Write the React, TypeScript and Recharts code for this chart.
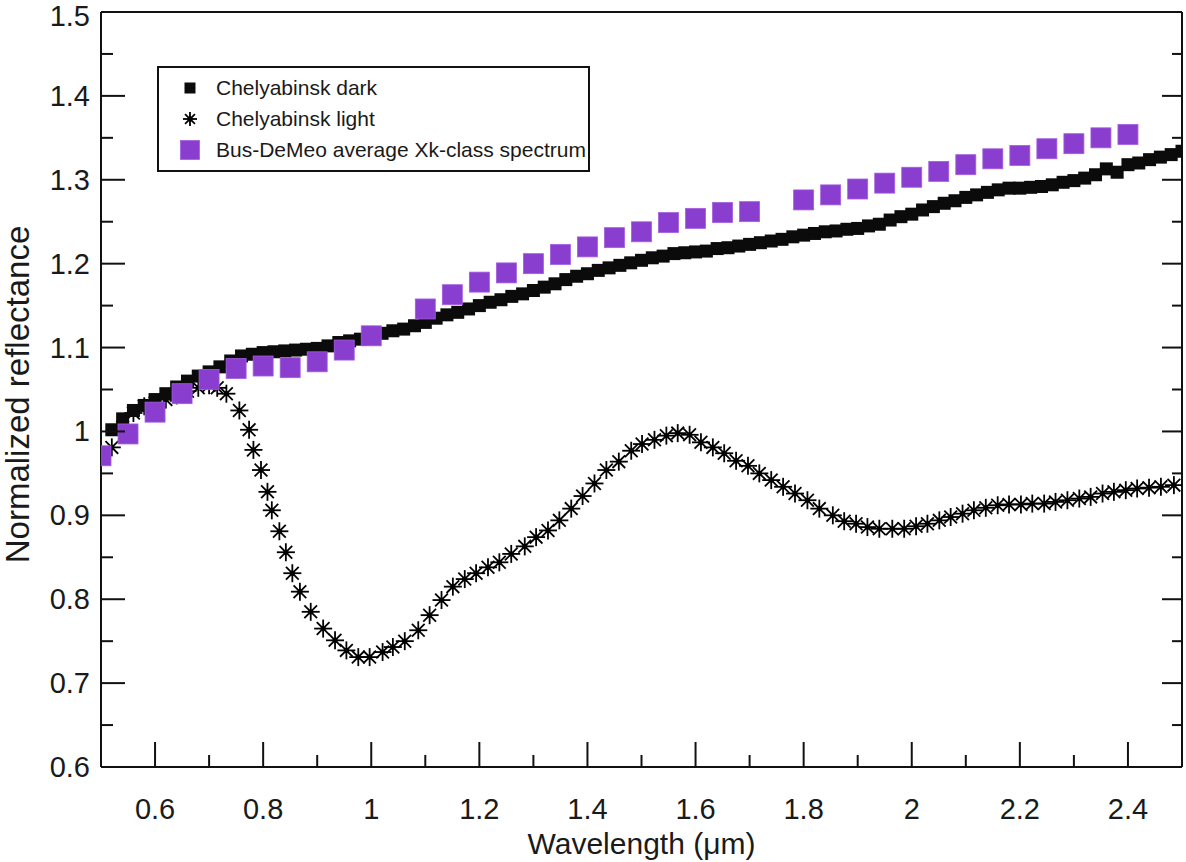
import { Label, Legend, Scatter, ScatterChart, XAxis, YAxis } from "recharts";

const FONT = '"Liberation Sans", Arial, Helvetica, sans-serif';

// Chelyabinsk dark (black squares)
const darkWavelength = [
  0.52, 0.54, 0.56, 0.58, 0.6, 0.62, 0.64, 0.66, 0.68, 0.7, 0.72, 0.74, 0.76, 0.78, 0.8, 0.82, 0.84, 0.86, 0.88, 0.9,
  0.92, 0.94, 0.96, 0.98, 1.0, 1.02, 1.04, 1.06, 1.08, 1.1, 1.12, 1.14, 1.16, 1.18, 1.2, 1.22, 1.24, 1.26, 1.28, 1.3,
  1.32, 1.34, 1.36, 1.38, 1.4, 1.42, 1.44, 1.46, 1.48, 1.5, 1.52, 1.54, 1.56, 1.58, 1.6, 1.62, 1.64, 1.66, 1.68, 1.7,
  1.72, 1.74, 1.76, 1.78, 1.8, 1.82, 1.84, 1.86, 1.88, 1.9, 1.92, 1.94, 1.96, 1.98, 2.0, 2.02, 2.04, 2.06, 2.08, 2.1,
  2.12, 2.14, 2.16, 2.18, 2.2, 2.22, 2.24, 2.26, 2.28, 2.3, 2.32, 2.34, 2.36, 2.38, 2.4, 2.42, 2.44, 2.46, 2.48, 2.5,
];
const darkReflectance = [
  1.002, 1.015, 1.025, 1.031, 1.038, 1.045, 1.053, 1.06, 1.066, 1.071, 1.077, 1.084, 1.09, 1.092, 1.094, 1.095, 1.096, 1.097, 1.098, 1.099,
  1.102, 1.106, 1.108, 1.11, 1.114, 1.117, 1.12, 1.122, 1.126, 1.13, 1.135, 1.139, 1.142, 1.146, 1.15, 1.154, 1.157, 1.161, 1.164, 1.168,
  1.172, 1.176, 1.181, 1.185, 1.188, 1.192, 1.195, 1.198, 1.201, 1.204, 1.207, 1.209, 1.212, 1.213, 1.214, 1.215, 1.218, 1.219, 1.221, 1.223,
  1.225, 1.227, 1.229, 1.232, 1.234, 1.236, 1.238, 1.239, 1.241, 1.242, 1.245, 1.247, 1.252, 1.256, 1.259, 1.264, 1.268, 1.272, 1.275, 1.279,
  1.282, 1.285, 1.288, 1.29, 1.29, 1.291, 1.292, 1.294, 1.297, 1.299, 1.302, 1.306, 1.313, 1.309, 1.318, 1.32, 1.324, 1.327, 1.33, 1.334,
];

// Chelyabinsk light (asterisks)
const lightWavelength = [
  0.52, 0.54, 0.56, 0.58, 0.6, 0.62, 0.64, 0.66, 0.68, 0.7, 0.715, 0.732, 0.756, 0.774, 0.782, 0.796, 0.808, 0.816, 0.83, 0.842,
  0.854, 0.868, 0.888, 0.911, 0.933, 0.954, 0.976, 0.997, 1.021, 1.04, 1.062, 1.087, 1.108, 1.13, 1.151, 1.173, 1.194, 1.216, 1.237, 1.259,
  1.284, 1.305, 1.327, 1.348, 1.37, 1.391, 1.413, 1.435, 1.458, 1.481, 1.501, 1.524, 1.546, 1.567, 1.589, 1.61, 1.632, 1.653, 1.675, 1.697,
  1.718, 1.74, 1.762, 1.784, 1.807, 1.829, 1.854, 1.875, 1.897, 1.918, 1.94, 1.964, 1.986, 2.008, 2.029, 2.051, 2.072, 2.094, 2.115, 2.137,
  2.159, 2.18, 2.202, 2.223, 2.245, 2.266, 2.288, 2.31, 2.331, 2.353, 2.374, 2.396, 2.417, 2.439, 2.461, 2.485,
];
const lightReflectance = [
  0.981, 1.005, 1.022, 1.03, 1.034, 1.038, 1.043, 1.048, 1.052, 1.055, 1.052, 1.045, 1.025, 1.002, 0.978, 0.954, 0.928, 0.906, 0.881, 0.856,
  0.831, 0.809, 0.785, 0.765, 0.751, 0.739, 0.731, 0.731, 0.737, 0.743, 0.75, 0.763, 0.781, 0.799, 0.815, 0.824, 0.831, 0.838, 0.844, 0.854,
  0.863, 0.874, 0.882, 0.894, 0.908, 0.923, 0.938, 0.954, 0.964, 0.977, 0.985, 0.99, 0.995, 0.998, 0.996, 0.987, 0.981, 0.974, 0.965, 0.959,
  0.95, 0.942, 0.934, 0.926, 0.918, 0.908, 0.9, 0.893, 0.89, 0.886, 0.884, 0.884, 0.884, 0.887, 0.89, 0.894, 0.898, 0.902, 0.906, 0.909,
  0.912, 0.913, 0.913, 0.914, 0.914, 0.916, 0.918, 0.92, 0.922, 0.926, 0.928, 0.93, 0.932, 0.933, 0.934, 0.936,
];

// Bus-DeMeo average Xk-class spectrum (purple squares)
const xkWavelength = [
  0.5, 0.55, 0.6, 0.65, 0.7, 0.75, 0.8, 0.85, 0.9, 0.95, 1.0, 1.1, 1.15, 1.2, 1.25, 1.3, 1.35, 1.4, 1.45,
  1.5, 1.55, 1.6, 1.65, 1.7, 1.8, 1.85, 1.9, 1.95, 2.0, 2.05, 2.1, 2.15, 2.2, 2.25, 2.3, 2.35, 2.4,
];
const xkReflectance = [
  0.971, 0.997, 1.023, 1.045, 1.062, 1.075, 1.078, 1.076, 1.083, 1.097, 1.114, 1.146, 1.163, 1.178, 1.189, 1.2, 1.211, 1.22, 1.231,
  1.238, 1.249, 1.254, 1.261, 1.262, 1.276, 1.282, 1.289, 1.296, 1.303, 1.31, 1.318, 1.325, 1.329, 1.337, 1.343, 1.35, 1.354,
];

const xMajorTicks = [0.6, 0.8, 1, 1.2, 1.4, 1.6, 1.8, 2, 2.2, 2.4];
const xMinorTicks = [0.7, 0.9, 1.1, 1.3, 1.5, 1.7, 1.9, 2.1, 2.3];
const yMajorTicks = [0.6, 0.7, 0.8, 0.9, 1, 1.1, 1.2, 1.3, 1.4, 1.5];
const yMinorTicks = [0.65, 0.75, 0.85, 0.95, 1.05, 1.15, 1.25, 1.35, 1.45];

const xTicks = [...xMajorTicks, ...xMinorTicks].sort((a, b) => a - b);
const yTicks = [...yMajorTicks, ...yMinorTicks].sort((a, b) => a - b);

const legendRows = [
  { name: "Chelyabinsk dark", marker: "dark" },
  { name: "Chelyabinsk light", marker: "light" },
  { name: "Bus-DeMeo average Xk-class spectrum", marker: "xk" },
];

const PURPLE = "#8a3ecf";

const toPoints = (xs: number[], ys: number[]) => xs.map((x, i) => ({ x, y: ys[i] }));

const darkData = toPoints(darkWavelength, darkReflectance);
const lightData = toPoints(lightWavelength, lightReflectance);
const xkData = toPoints(xkWavelength, xkReflectance);

function darkSquare(cx: number, cy: number, side = 13) {
  return <rect x={cx - side / 2} y={cy - side / 2} width={side} height={side} fill="#0b0b0b" />;
}

function xkSquare(cx: number, cy: number, side = 20) {
  return (
    <rect
      x={cx - side / 2}
      y={cy - side / 2}
      width={side}
      height={side}
      fill={PURPLE}
      stroke="#a35ee0"
      strokeWidth={0.8}
    />
  );
}

function asterisk(cx: number, cy: number, r = 9) {
  const d = r * 0.7071;
  return (
    <g stroke="#000" strokeWidth={1.8}>
      <line x1={cx - r} y1={cy} x2={cx + r} y2={cy} />
      <line x1={cx} y1={cy - r} x2={cx} y2={cy + r} />
      <line x1={cx - d} y1={cy - d} x2={cx + d} y2={cy + d} />
      <line x1={cx - d} y1={cy + d} x2={cx + d} y2={cy - d} />
      <circle cx={cx} cy={cy} r={2.6} fill="#000" stroke="none" />
    </g>
  );
}

const fmt = (v: number) => String(v);

function BottomTick({ x, y, payload }: any) {
  const major = xMajorTicks.includes(payload.value);
  return (
    <g>
      <line x1={x} x2={x} y1={y} y2={y - (major ? 25 : 12)} stroke="#111" strokeWidth={2} />
      {major && (
        <text x={x} y={y + 52} textAnchor="middle" fontSize={29} fontFamily={FONT} fill="#1a1a1a">
          {fmt(payload.value)}
        </text>
      )}
    </g>
  );
}

function TopTick({ x, y, payload }: any) {
  const major = xMajorTicks.includes(payload.value);
  return <line x1={x} x2={x} y1={y} y2={y + (major ? 22 : 12)} stroke="#111" strokeWidth={2} />;
}

function LeftTick({ x, y, payload }: any) {
  const major = yMajorTicks.includes(payload.value);
  // keep the topmost label inside the page
  const labelY = Math.max(y, 16);
  return (
    <g>
      <line x1={x} x2={x + (major ? 24 : 12)} y1={y} y2={y} stroke="#111" strokeWidth={2} />
      {major && (
        <text
          x={x - 11}
          y={labelY}
          textAnchor="end"
          dominantBaseline="central"
          fontSize={29}
          fontFamily={FONT}
          fill="#1a1a1a"
        >
          {fmt(payload.value)}
        </text>
      )}
    </g>
  );
}

function RightTick({ x, y, payload }: any) {
  const major = yMajorTicks.includes(payload.value);
  return <line x1={x} x2={x - (major ? 20 : 10)} y1={y} y2={y} stroke="#111" strokeWidth={2} />;
}

function LegendMarker({ kind }: { kind: string }) {
  return (
    <svg width={28} height={28}>
      {kind === "dark" && darkSquare(14, 14, 11)}
      {kind === "light" && asterisk(14, 14, 7)}
      {kind === "xk" && xkSquare(14, 14, 19)}
    </svg>
  );
}

function ChartLegend() {
  return (
    <div
      style={{
        position: "relative",
        width: 433,
        height: 106,
        border: "2px solid #111",
        boxSizing: "border-box",
        background: "#fff",
        fontFamily: FONT,
        fontSize: 21,
        color: "#1a1a1a",
      }}
    >
      {legendRows.map((row, i) => (
        <div
          key={row.name}
          style={{
            position: "absolute",
            left: 17,
            top: 6 + i * 31,
            height: 28,
            display: "flex",
            alignItems: "center",
            whiteSpace: "nowrap",
          }}
        >
          <LegendMarker kind={row.marker} />
          <span style={{ marginLeft: 12 }}>{row.name}</span>
        </div>
      ))}
    </div>
  );
}

const axisLine = { stroke: "#111", strokeWidth: 2 };

export default function App() {
  return (
    <div style={{ position: "absolute", left: 0, top: 0, width: 1186, height: 862, background: "#fff" }}>
      <ScatterChart width={1186} height={862} margin={{ top: 11, right: 3, bottom: 94, left: 100 }}>
        <XAxis
          xAxisId="bottom"
          dataKey="x"
          type="number"
          domain={[0.5, 2.5]}
          allowDataOverflow
          ticks={xTicks}
          interval={0}
          tickSize={0}
          tickMargin={0}
          height={1}
          axisLine={axisLine}
          tickLine={false}
          tick={BottomTick}
        >
          <Label
            content={({ viewBox }: any) => (
              <text
                x={viewBox.x + viewBox.width / 2}
                y={viewBox.y + 76}
                textAnchor="middle"
                dominantBaseline="central"
                fontSize={30}
                fontFamily={FONT}
                fill="#1a1a1a"
              >
                Wavelength (μm)
              </text>
            )}
          />
        </XAxis>
        <XAxis
          xAxisId="top"
          orientation="top"
          type="number"
          domain={[0.5, 2.5]}
          allowDataOverflow
          ticks={xTicks}
          interval={0}
          tickSize={0}
          tickMargin={0}
          height={1}
          axisLine={axisLine}
          tickLine={false}
          tick={TopTick}
        />
        <YAxis
          yAxisId="left"
          dataKey="y"
          type="number"
          domain={[0.6, 1.5]}
          allowDataOverflow
          ticks={yTicks}
          interval={0}
          tickSize={0}
          tickMargin={0}
          width={1}
          axisLine={axisLine}
          tickLine={false}
          tick={LeftTick}
        >
          <Label
            content={({ viewBox }: any) => {
              const cx = viewBox.x - 83;
              const cy = viewBox.y + viewBox.height / 2 + 5;
              return (
                <text
                  x={cx}
                  y={cy}
                  transform={`rotate(-90, ${cx}, ${cy})`}
                  textAnchor="middle"
                  dominantBaseline="central"
                  fontSize={33}
                  fontFamily={FONT}
                  fill="#1a1a1a"
                >
                  Normalized reflectance
                </text>
              );
            }}
          />
        </YAxis>
        <YAxis
          yAxisId="right"
          orientation="right"
          type="number"
          domain={[0.6, 1.5]}
          allowDataOverflow
          ticks={yTicks}
          interval={0}
          tickSize={0}
          tickMargin={0}
          width={1}
          axisLine={axisLine}
          tickLine={false}
          tick={RightTick}
        />
        <Legend
          layout="horizontal"
          verticalAlign="middle"
          align="center"
          wrapperStyle={{ left: 157, top: 66, width: 433 }}
          content={() => <ChartLegend />}
        />
        <Scatter
          name="Chelyabinsk light"
          data={lightData}
          xAxisId="bottom"
          yAxisId="left"
          shape={(p: any) => asterisk(p.cx, p.cy)}
          isAnimationActive={false}
        />
        <Scatter
          name="Chelyabinsk dark"
          data={darkData}
          xAxisId="bottom"
          yAxisId="left"
          shape={(p: any) => darkSquare(p.cx, p.cy)}
          isAnimationActive={false}
        />
        <Scatter
          name="Bus-DeMeo average Xk-class spectrum"
          data={xkData}
          xAxisId="bottom"
          yAxisId="left"
          shape={(p: any) => xkSquare(p.cx, p.cy)}
          isAnimationActive={false}
        />
      </ScatterChart>
    </div>
  );
}
